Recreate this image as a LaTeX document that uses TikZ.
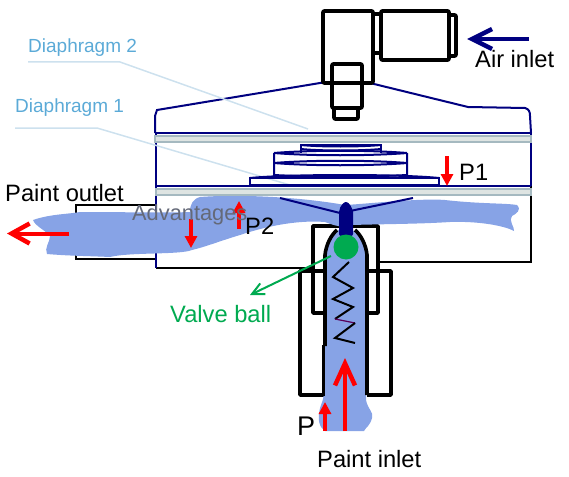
\documentclass[tikz,border=0pt]{standalone}
\usepackage{fontspec}
\setmainfont{Liberation Sans}
\usetikzlibrary{arrows.meta}
\definecolor{navyb}{RGB}{0,0,128}
\definecolor{paint}{RGB}{135,163,230}
\definecolor{lbl}{RGB}{91,170,215}
\definecolor{lead}{RGB}{205,225,238}
\definecolor{memb}{RGB}{165,185,192}
\definecolor{membin}{RGB}{222,228,226}
\definecolor{ballg}{RGB}{0,170,80}
\definecolor{advg}{RGB}{100,105,120}
\tikzset{
 x=1pt,y=-1pt,
 blk/.style={draw=black,line width=3.6pt,line join=round},
 thinblk/.style={draw=black,line width=2pt},
 nav/.style={draw=navyb,line width=2pt},
 membr/.style={draw=memb,fill=membin,line width=1.6pt},
 leadl/.style={draw=lead,line width=1.5pt},
 redar/.style={draw=red,line width=4pt,-{Straight Barb[length=18pt,width=20pt,line width=4.5pt]}},
 redfill/.style={draw=red,line width=3.5pt,-{Triangle[length=12pt,width=12pt]}},
 txt/.style={inner sep=0pt,anchor=base west,font=\fontsize{23.7}{24}\selectfont,text=black},
}
\begin{document}
\begin{tikzpicture}
\useasboundingbox (0,0) rectangle (569,476);
% casing
\draw[thinblk] (156,205) -- (76,205) -- (76,259) -- (156,259);
\draw[thinblk] (156,268) -- (312,268);
\draw[thinblk] (378,262) -- (531,262) -- (531,186);
\draw[nav] (156,186) -- (156,268);
\draw[nav] (156,186) -- (531,186);
\draw[nav] (156,133) -- (156,186);
\draw[nav] (531,186) -- (531,133);
\draw[nav] (155,133) -- (155,116) -- (157,110) -- (320,83) -- (370,83) -- (468,107) -- (525,108) .. controls (529,109) and (530,112) .. (530,116) -- (531,133);
\draw[nav] (155,133) -- (531,133);
% leader lines
\draw[leadl] (28,62) -- (120,62) -- (308,129);
\draw[leadl] (15,128) -- (97,128) -- (290,185);
% outer bodies of the valve
\draw[blk] (325,271) -- (300,271) -- (300,395) -- (325,395);
\draw[blk] (367,271) -- (391,271) -- (391,395) -- (367,395);
\draw[blk] (325,313) -- (313,313) -- (313,226) -- (378,226) -- (378,313) -- (367,313);
% paint
\fill[paint] (33,220) .. controls (50,214) and (70,214) .. (80,212)
 .. controls (120,212) and (170,213) .. (190,212)
 .. controls (190,204) and (193,199) .. (200,197)
 .. controls (240,194) and (300,197) .. (345,205)
 .. controls (365,204) and (420,198) .. (445,200)
 .. controls (480,204) and (505,203) .. (517,205)
 .. controls (522,210) and (516,214) .. (512,216)
 .. controls (508,220) and (515,228) .. (514,231)
 .. controls (505,226) and (480,221) .. (450,222)
 .. controls (420,224) and (385,224) .. (352,225)
 .. controls (350,228) and (340,228) .. (325,222)
 .. controls (300,220) and (270,225) .. (240,235)
 .. controls (220,241) and (205,247) .. (192,250)
 .. controls (180,255) and (130,252) .. (110,257)
 .. controls (90,256) and (70,256) .. (47,254)
 .. controls (44,248) and (50,242) .. (50,236)
 .. controls (45,230) and (35,226) .. (33,220) -- cycle;
\fill[paint] (325,255) .. controls (326,240) and (335,229) .. (345,228) .. controls (356,229) and (366,240) .. (367,255)
 -- (367,360) -- (366,400) .. controls (368,410) and (374,412) .. (372,418) .. controls (370,426) and (366,427) .. (364,431)
 -- (325,431) .. controls (320,428) and (316,420) .. (321,405) .. controls (326,395) and (325,370) .. (323,350) -- (325,340) -- cycle;
% diaphragms
\draw[membr] (155,136) rectangle (531,142);
\draw[membr] (156,189) rectangle (531,195);
% stack
\draw[nav] (250,185) -- (250,178) -- (439,178) -- (439,185) -- cycle;
\draw[nav] (250,178) .. controls (290,174) and (400,174) .. (439,178);
\draw[nav] (274,153) -- (274,175) .. controls (310,177) and (370,177) .. (407,175) -- (407,153);
\draw[nav] (274,153) .. controls (310,150) and (370,150) .. (407,153);
\draw[nav] (274,153) .. controls (310,156) and (370,156) .. (407,153);
\draw[nav] (274,163) .. controls (310,160) and (370,160) .. (407,163);
\draw[nav] (274,163) .. controls (310,166) and (370,166) .. (407,163);
\draw[nav] (301,153) -- (301,145) -- (381,145) -- (381,153);
\draw[nav] (301,145) .. controls (320,147) and (360,147) .. (381,145);
\draw[nav] (301,149) .. controls (320,151) and (360,151) .. (381,149);
\draw[nav] (280,198) -- (340,213);
\draw[nav] (413,198) -- (350,211);
% tube walls
\draw[blk] (325,346) -- (325,255) .. controls (326,245) and (331,235) .. (337,230);
\draw[blk] (367,395) -- (367,255) .. controls (366,245) and (361,235) .. (355,230);
\draw[draw=black,line width=2.4pt] (323.4,345) -- (323.4,396);
% spring
\draw[draw=black,line width=2pt,line join=miter] (349,262) -- (333,277) -- (353,288) -- (333,299) -- (353,307) -- (335,319);
\draw[draw=violet!70!black,line width=1.2pt] (335,319) -- (355,323);
\draw[draw=black,line width=2pt,line join=miter] (355,323) -- (335,338) -- (355,343);
% stem and ball
\fill[navyb] (339,230) -- (339,212) .. controls (340,205) and (344,202) .. (346,202) .. controls (349,202) and (352,207) .. (353,212) -- (353,234) .. controls (353,238) and (339,238) .. (339,234) -- cycle;
\fill[ballg] (346,247) circle (12.5);
\draw[draw=ballg,line width=2pt,-{Straight Barb[length=12pt,width=12pt,line width=2pt]}] (331,256) -- (250,295);
% air fitting
\draw[blk,rounded corners=1pt] (323,11) rectangle (373,83);
\draw[blk,rounded corners=1pt] (332,64) rectangle (362,108);
\draw[blk,rounded corners=1pt] (334,108) rectangle (358,119);
\draw[blk] (373,14) -- (381,14) (373,53) -- (381,53);
\draw[blk,rounded corners=1pt] (381,11) rectangle (449,60);
\draw[blk,rounded corners=1pt] (449,15) -- (456,15) -- (456,56) -- (449,56);
% arrows
\draw[draw=navyb,line width=4pt,-{Straight Barb[length=20pt,width=20pt,line width=4.5pt]}] (529,39) -- (467,39);
\draw[redar] (69,233.5) -- (7,233.5);
\draw[redfill] (191,219) -- (191,248);
\draw[redfill] (239,229) -- (239,201);
\draw[redfill] (447,156) -- (447,186);
\draw[redar,-{Straight Barb[length=22pt,width=20pt,line width=4.5pt]}] (345,431) -- (345,358);
\draw[redfill] (325,431) -- (325,402);
% labels
\node[txt] (adv) at (132,220) {\fontsize{21.8}{22}\selectfont\textcolor{advg}{Advantages}};
\node[txt] (po) at (5,201) {Paint outlet};
\node[txt] (air) at (475,68) {Air inlet};
\node[txt] (p1) at (459,180) {P1};
\node[txt] (p2) at (245,234) {P2};
\node[txt] (vb) at (170,322) {\textcolor{ballg}{Valve ball}};
\node[txt] (pp) at (297,435) {\fontsize{27}{27}\selectfont P};
\node[txt] (pi) at (317,467) {Paint inlet};
\node[txt] (d2) at (28,53) {\fontsize{19}{19}\selectfont\textcolor{lbl}{Diaphragm 2}};
\node[txt] (d1) at (15,112) {\fontsize{19}{19}\selectfont\textcolor{lbl}{Diaphragm 1}};
\end{tikzpicture}
\end{document}
